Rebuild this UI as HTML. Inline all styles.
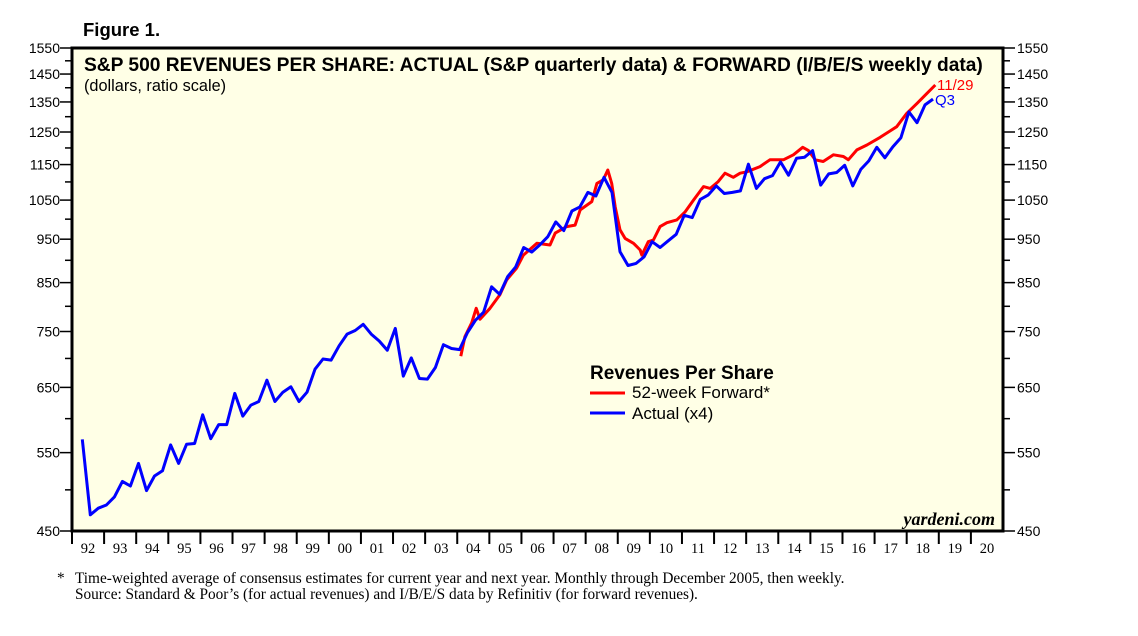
<!DOCTYPE html>
<html><head><meta charset="utf-8"><style>
html,body{margin:0;padding:0;background:#fff;}
svg{display:block;}
text{font-family:"Liberation Sans",sans-serif;}
.serif{font-family:"Liberation Serif",serif;}
</style></head><body>
<svg id="chart" width="1138" height="636" xmlns="http://www.w3.org/2000/svg">
<text x="83" y="36" font-size="18.5" font-weight="bold">Figure 1.</text>
<rect x="72" y="48" width="931" height="483" fill="#ffffe6"/>
<g id="grid"></g>
<g id="series"></g>
<rect x="72" y="48" width="931" height="483" fill="none" stroke="#000" stroke-width="3"/>
<text x="84" y="71" font-size="19.2" font-weight="bold">S&amp;P 500 REVENUES PER SHARE: ACTUAL (S&amp;P quarterly data) &amp; FORWARD (I/B/E/S weekly data)</text>
<text x="84" y="91" font-size="16.3">(dollars, ratio scale)</text>
<text x="937" y="90" font-size="15" fill="#ff0000">11/29</text>
<text x="935" y="105" font-size="15" fill="#0000ff">Q3</text>
<g>
<text x="590" y="379" font-size="19" font-weight="bold">Revenues Per Share</text>
<line x1="590" y1="393" x2="625" y2="393" stroke="#ff0000" stroke-width="3"/>
<text x="632" y="398" font-size="17">52-week Forward*</text>
<line x1="590" y1="413" x2="625" y2="413" stroke="#0000ff" stroke-width="3"/>
<text x="632" y="419" font-size="17">Actual (x4)</text>
</g>
<text x="995" y="525" font-size="18" font-weight="bold" font-style="italic" text-anchor="end" class="serif">yardeni.com</text>
<text x="57" y="583" font-size="15.3" class="serif">*</text>
<text x="75" y="583" font-size="15.3" class="serif">Time-weighted average of consensus estimates for current year and next year. Monthly through December 2005, then weekly.</text>
<text x="75" y="599" font-size="15.3" class="serif">Source: Standard &amp; Poor’s (for actual revenues) and I/B/E/S data by Refinitiv (for forward revenues).</text>
</svg>
<script>
const yTickValues=[450,550,650,750,850,950,1050,1150,1250,1350,1450,1550];
const yMinorValues=[500,600,700,800,900,1000,1100,1200,1300,1400,1500];
const xYearLabels=["92","93","94","95","96","97","98","99","00","01","02","03","04","05","06","07","08","09","10","11","12","13","14","15","16","17","18","19","20"];
const actualStart=1992.32;
const actualValues=[569,469,477,481,491,511,505,535,499,518,525,561,535,562,563,606,570,591,591,640,604,621,627,662,627,642,651,627,642,681,699,697,723,745,752,764,745,732,715,756,669,701,665,664,684,725,718,716,748,772,788,841,825,863,885,930,919,936,956,993,971,1021,1032,1071,1061,1113,1071,920,888,893,908,944,930,946,962,1010,1004,1052,1064,1089,1068,1071,1075,1151,1082,1109,1118,1158,1119,1169,1172,1192,1091,1123,1127,1148,1089,1136,1161,1202,1170,1204,1232,1316,1280,1340,1360];
const forwardDates=[2004.11,2004.24,2004.45,2004.59,2004.71,2005.02,2005.33,2005.54,2005.85,2006.06,2006.48,2006.89,2007.05,2007.41,2007.67,2007.83,2008.19,2008.35,2008.55,2008.69,2008.81,2008.92,2009.07,2009.23,2009.49,2009.70,2009.75,2009.95,2010.11,2010.32,2010.53,2010.84,2011.10,2011.36,2011.67,2011.88,2012.13,2012.34,2012.60,2012.81,2013.02,2013.43,2013.74,2014.16,2014.47,2014.76,2014.94,2015.15,2015.40,2015.72,2016.03,2016.18,2016.45,2016.76,2017.17,2017.69,2018.00,2018.32,2018.63,2018.89];
const forwardValues=[704,740,767,796,774,796,824,856,882,912,940,936,965,981,985,1024,1046,1096,1106,1134,1096,1032,973,952,940,924,912,944,948,981,991,998,1019,1050,1087,1082,1101,1125,1113,1125,1129,1144,1164,1164,1179,1202,1192,1164,1159,1179,1174,1164,1194,1209,1233,1267,1311,1345,1380,1410];

const NS="http://www.w3.org/2000/svg";
const L=72,R=1003,T=48,B=531,YMIN=450,YMAX=1550,X0=1992,X1=2021;
function yScale(v){return B-(Math.log(v/YMIN)/Math.log(YMAX/YMIN))*(B-T);}
function xScale(t){return L+(t-X0)/(X1-X0)*(R-L);}
function mk(tag,attrs,parent){const e=document.createElementNS(NS,tag);for(const k in attrs)e.setAttribute(k,attrs[k]);parent.appendChild(e);return e;}
const svg=document.getElementById('chart');
yTickValues.forEach(v=>{
  const y=yScale(v);
  let e=mk('line',{x1:L-12,x2:L,y1:y,y2:y,stroke:'#000','stroke-width':1.5},svg);
  
  
  e=mk('line',{x1:R,x2:R+12,y1:y,y2:y,stroke:'#000','stroke-width':1.5},svg);
  
  
  e=mk('text',{x:L-12,y:y+5,'font-size':14,'text-anchor':'end'},svg);
  e.textContent=v;
  
  
  e=mk('text',{x:R+14,y:y+5,'font-size':14},svg);
  e.textContent=v;
  
  
});
yMinorValues.forEach(v=>{
  const y=yScale(v);
  let e=mk('line',{x1:L-7,x2:L,y1:y,y2:y,stroke:'#000','stroke-width':1.5},svg);
  
  
  e=mk('line',{x1:R,x2:R+7,y1:y,y2:y,stroke:'#000','stroke-width':1.5},svg);
  
  
});
xYearLabels.forEach((lab,i)=>{
  const x=xScale(X0+i);
  let e=mk('line',{x1:x,x2:x,y1:B,y2:B+13,stroke:'#000','stroke-width':2},svg);
  
  
  e=mk('text',{x:xScale(X0+i+0.5),y:B+22,'font-size':14.5,'text-anchor':'middle','class':'serif'},svg);
  e.textContent=lab;
  
  
});
const ser=document.getElementById('series');
let fp=forwardDates.map((t,i)=>xScale(t).toFixed(1)+','+yScale(forwardValues[i]).toFixed(1)).join(' ');
let pf=mk('polyline',{points:fp,fill:'none',stroke:'#ff0000','stroke-width':3,'stroke-linejoin':'round'},ser);


let ap=actualValues.map((v,i)=>xScale(actualStart+0.25*i).toFixed(1)+','+yScale(v).toFixed(1)).join(' ');
let pa=mk('polyline',{points:ap,fill:'none',stroke:'#0000ff','stroke-width':3,'stroke-linejoin':'round'},ser);


</script>
</body></html>
